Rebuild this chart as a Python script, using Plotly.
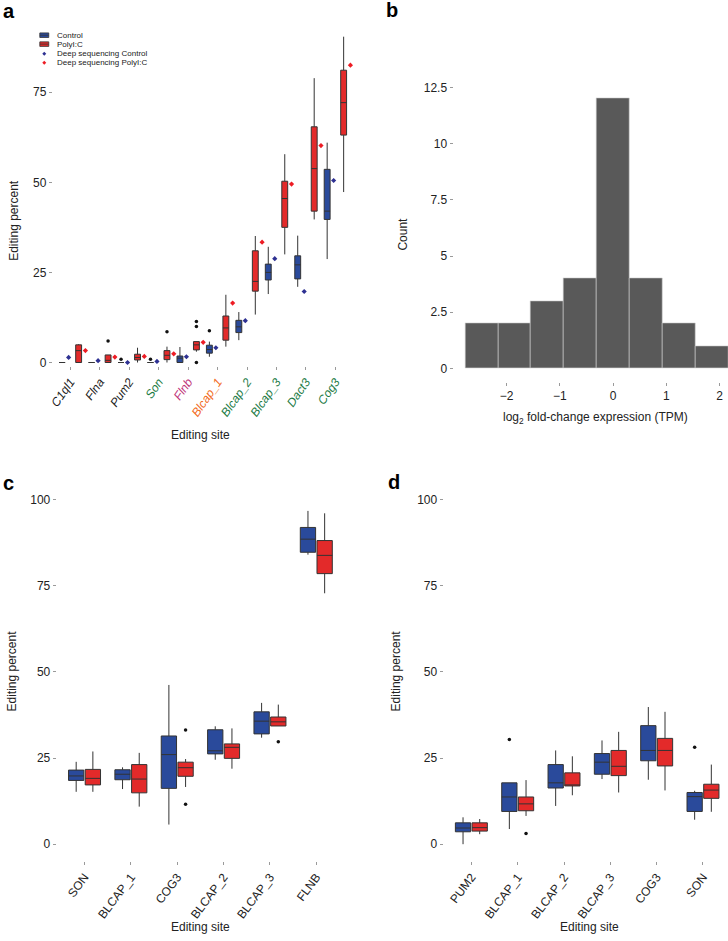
import plotly.graph_objects as go
import numpy as np

W, H = 728, 941
FONT = "Liberation Sans, Arial, sans-serif"
BLUE = "#2a4a9b"
RED = "#e32a2a"
DBLUE = "#2e3192"
DRED = "#ed1c24"
OUT = "#333333"
TXT = "#222222"

# ---------------- Panel a data ----------------
sites_a = ["C1ql1", "Flna", "Pum2", "Son", "Flnb", "Blcap_1", "Blcap_2", "Blcap_3", "Dact3", "Cog3"]
site_colors_a = ["#1a1a1a", "#1a1a1a", "#1a1a1a", "#1b7a44", "#c0357a", "#f26a21",
                 "#1b7a44", "#1b7a44", "#1b7a44", "#1b7a44"]
ctrl_a_low = [0, 0, 0, 0, 0, 1.6, 6.2, 19.0, 21.0, 28.7]
ctrl_a_q1 = [0, 0, 0, 0, 0, 2.6, 8.3, 22.9, 23.2, 39.7]
ctrl_a_med = [0, 0, 0, 0, 1.2, 3.6, 9.9, 25.0, 27.1, 42.0]
ctrl_a_q3 = [0, 0, 0, 0, 1.8, 4.8, 11.7, 27.3, 29.6, 53.6]
ctrl_a_up = [0, 0, 0, 0, 4.3, 5.8, 14.0, 32.1, 35.2, 61.0]
pic_a_low = [0, 0, 0, 0, 3.0, 4.4, 13.3, 30.0, 39.7, 47.3]
pic_a_q1 = [0, 0, 0.7, 0.8, 3.5, 6.2, 19.8, 37.5, 42.0, 63.1]
pic_a_med = [3.3, 0.6, 1.4, 2.0, 4.9, 9.6, 22.5, 45.5, 53.8, 72.1]
pic_a_q3 = [4.9, 2.1, 2.3, 3.3, 5.8, 12.9, 31.0, 50.3, 65.4, 81.1]
pic_a_up = [5.1, 2.1, 4.1, 4.4, 5.8, 18.8, 35.1, 57.8, 78.9, 90.4]
deep_ctrl_a = [1.4, 0.5, 0.0, 0.3, 1.6, 4.1, 11.6, 28.8, 19.7, 50.5]
deep_pic_a = [3.3, 1.5, 1.7, 2.4, 5.6, 16.5, 33.4, 49.5, 60.2, 82.5]
ctrl_a_out_site = ["Pum2", "Son", "Blcap_1"]
ctrl_a_out_val = [0.9, 0.9, 8.8]
pic_a_out_site = ["Flna", "Son", "Flnb", "Flnb", "Flnb"]
pic_a_out_val = [6.0, 8.5, 11.4, 10.0, 0.0]

# ---------------- Panel b data ----------------
hist_edges = [-2.78, -2.163, -1.545, -0.927, -0.309, 0.309, 0.927, 1.545, 2.163]
hist_counts = [2, 2, 3, 4, 12, 4, 2, 1]
hist_ticks = [-2, -1, 0, 1, 2]
hist_ticktext = ["\u22122", "\u22121", "0", "1", "2"]
count_ticks = [0, 2.5, 5, 7.5, 10, 12.5]
count_ticktext = ["0", "2.5", "5", "7.5", "10", "12.5"]

# ---------------- Panel c data ----------------
sites_c = ["SON", "BLCAP_1", "COG3", "BLCAP_2", "BLCAP_3", "FLNB"]
ctrl_c_low = [15.2, 16.0, 5.7, 24.5, 30.9, 84.0]
ctrl_c_q1 = [18.5, 18.7, 16.2, 26.2, 32.0, 84.7]
ctrl_c_med = [19.8, 20.3, 26.0, 27.1, 35.7, 88.5]
ctrl_c_q3 = [21.5, 21.6, 31.4, 33.2, 38.4, 91.9]
ctrl_c_up = [23.9, 22.3, 46.2, 34.2, 41.0, 96.7]
pic_c_low = [15.2, 10.9, 16.6, 21.9, 34.3, 72.8]
pic_c_q1 = [17.2, 14.9, 19.7, 24.9, 34.3, 78.5]
pic_c_med = [19.1, 18.9, 22.2, 28.1, 35.5, 83.8]
pic_c_q3 = [21.7, 23.1, 23.8, 29.1, 36.9, 88.1]
pic_c_up = [26.9, 26.5, 24.7, 33.6, 40.5, 96.0]
pic_c_out_site = ["COG3", "COG3", "BLCAP_3"]
pic_c_out_val = [33.1, 11.6, 29.7]

# ---------------- Panel d data ----------------
sites_d = ["PUM2", "BLCAP_1", "BLCAP_2", "BLCAP_3", "COG3", "SON"]
ctrl_d_low = [0.0, 4.4, 11.1, 18.9, 18.7, 7.1]
ctrl_d_q1 = [3.6, 9.5, 16.3, 20.3, 24.2, 9.5]
ctrl_d_med = [4.7, 13.7, 17.8, 23.8, 27.2, 13.8]
ctrl_d_q3 = [6.2, 17.8, 23.1, 26.3, 34.4, 15.0]
ctrl_d_up = [7.8, 17.8, 27.2, 30.1, 39.8, 15.5]
pic_d_low = [2.9, 8.2, 14.2, 15.0, 15.6, 9.4]
pic_d_q1 = [3.8, 9.7, 16.9, 19.9, 22.7, 13.3]
pic_d_med = [4.8, 11.7, 17.2, 22.6, 27.2, 15.7]
pic_d_q3 = [6.2, 13.7, 20.7, 27.2, 30.7, 17.4]
pic_d_up = [7.3, 18.6, 25.5, 32.6, 38.4, 23.1]
ctrl_d_out_site = ["BLCAP_1", "SON"]
ctrl_d_out_val = [30.4, 28.1]
pic_d_out_site = ["BLCAP_1"]
pic_d_out_val = [3.1]

pct_ticks = [0, 25, 50, 75, 100]


def px(x):
    return x / W


def py(y):
    return 1 - y / H


fig = go.Figure()


def add_box(xs, low, q1, med, q3, up, color, width, xa, ya):
    fig.add_trace(go.Box(
        x=xs, lowerfence=low, q1=q1, median=med, q3=q3, upperfence=up,
        fillcolor=color, line=dict(color=OUT, width=1), width=width,
        whiskerwidth=0, boxpoints=False, showlegend=False,
        xaxis=xa, yaxis=ya, hoverinfo="skip"))


def add_points(xs, ys, color, symbol, size, xa, ya):
    fig.add_trace(go.Scatter(
        x=xs, y=ys, mode="markers",
        marker=dict(color=color, symbol=symbol, size=size, line=dict(width=0)),
        showlegend=False, xaxis=xa, yaxis=ya, hoverinfo="skip"))


# ----- Panel a -----
pos_a = np.arange(1, len(sites_a) + 1)
idx_a = {s: i + 1 for i, s in enumerate(sites_a)}
add_box(pos_a - 0.28, ctrl_a_low, ctrl_a_q1, ctrl_a_med, ctrl_a_q3, ctrl_a_up, BLUE, 0.2, "x", "y")
add_box(pos_a + 0.28, pic_a_low, pic_a_q1, pic_a_med, pic_a_q3, pic_a_up, RED, 0.2, "x", "y")
add_points([idx_a[s] - 0.28 for s in ctrl_a_out_site], ctrl_a_out_val, "#111111", "circle", 3.5, "x", "y")
add_points([idx_a[s] + 0.28 for s in pic_a_out_site], pic_a_out_val, "#111111", "circle", 3.5, "x", "y")
add_points(pos_a - 0.06, deep_ctrl_a, DBLUE, "diamond", 4, "x", "y")
add_points(pos_a + 0.51, deep_pic_a, DRED, "diamond", 4, "x", "y")

# ----- Panel b -----
edges = np.array(hist_edges)
centers = (edges[:-1] + edges[1:]) / 2
widths = edges[1:] - edges[:-1]
fig.add_trace(go.Bar(x=centers, y=hist_counts, width=widths,
                     marker=dict(color="#595959", line=dict(color="#cfcfcf", width=0.6)),
                     showlegend=False, xaxis="x2", yaxis="y2", hoverinfo="skip"))

# ----- Panel c -----
pos_c = np.arange(1, len(sites_c) + 1)
idx_c = {s: i + 1 for i, s in enumerate(sites_c)}
add_box(pos_c - 0.18, ctrl_c_low, ctrl_c_q1, ctrl_c_med, ctrl_c_q3, ctrl_c_up, BLUE, 0.33, "x3", "y3")
add_box(pos_c + 0.18, pic_c_low, pic_c_q1, pic_c_med, pic_c_q3, pic_c_up, RED, 0.33, "x3", "y3")
add_points([idx_c[s] + 0.18 for s in pic_c_out_site], pic_c_out_val, "#111111", "circle", 3.5, "x3", "y3")

# ----- Panel d -----
pos_d = np.arange(1, len(sites_d) + 1)
idx_d = {s: i + 1 for i, s in enumerate(sites_d)}
add_box(pos_d - 0.18, ctrl_d_low, ctrl_d_q1, ctrl_d_med, ctrl_d_q3, ctrl_d_up, BLUE, 0.33, "x4", "y4")
add_box(pos_d + 0.18, pic_d_low, pic_d_q1, pic_d_med, pic_d_q3, pic_d_up, RED, 0.33, "x4", "y4")
add_points([idx_d[s] - 0.18 for s in ctrl_d_out_site], ctrl_d_out_val, "#111111", "circle", 3.5, "x4", "y4")
add_points([idx_d[s] + 0.18 for s in pic_d_out_site], pic_d_out_val, "#111111", "circle", 3.5, "x4", "y4")

axis_common = dict(showgrid=False, zeroline=False, showline=False, ticks="outside",
                   ticklen=3, tickwidth=1, tickcolor="#9a9a9a",
                   tickfont=dict(family=FONT, size=12, color=TXT))

ticktext_a = ["<i><span style='color:%s'>%s</span></i>" % (c, s) for s, c in zip(sites_a, site_colors_a)]

fig.update_layout(
    width=W, height=H, margin=dict(l=0, r=0, t=0, b=0),
    paper_bgcolor="white", plot_bgcolor="white",
    font=dict(family=FONT, size=12, color=TXT),
    boxmode="overlay", bargap=0, showlegend=False,
    xaxis=dict(axis_common, domain=[px(49), px(351)], range=[0.4, 10.6], anchor="y",
               tickvals=list(pos_a), ticktext=ticktext_a, tickangle=-55),
    yaxis=dict(axis_common, domain=[py(364.6), py(28)], range=[-1, 91.5], anchor="x",
               tickvals=[0, 25, 50, 75]),
    xaxis2=dict(axis_common, domain=[px(452), 1.0], range=[-3.0, 2.16], anchor="y2",
                tickvals=hist_ticks, ticktext=hist_ticktext),
    yaxis2=dict(axis_common, domain=[py(380.6), py(81)], range=[-0.6, 12.6], anchor="x2",
                tickvals=count_ticks, ticktext=count_ticktext),
    xaxis3=dict(axis_common, domain=[px(53), px(342)], range=[0.4, 6.6], anchor="y3",
                tickvals=list(pos_c), ticktext=sites_c, tickangle=-53),
    yaxis3=dict(axis_common, domain=[py(864.7), py(481.9)], range=[-5, 105], anchor="x3",
                tickvals=pct_ticks),
    xaxis4=dict(axis_common, domain=[px(442), 1.0], range=[0.4, 6.54], anchor="y4",
                tickvals=list(pos_d), ticktext=sites_d, tickangle=-53),
    yaxis4=dict(axis_common, domain=[py(864.7), py(481.9)], range=[-5, 105], anchor="x4",
                tickvals=pct_ticks),
)

ann = []


def label(text, x, y, size=12, angle=0, xanchor="center", yanchor="middle", bold=False):
    ann.append(dict(text=("<b>%s</b>" % text) if bold else text, x=px(x), y=py(y),
                    xref="paper", yref="paper", showarrow=False, textangle=angle,
                    xanchor=xanchor, yanchor=yanchor,
                    font=dict(family=FONT, size=size, color="#000000" if bold else TXT)))


# panel letters
label("a", -3, 6, size=20, xanchor="left", bold=True)
label("b", 382, 5, size=20, xanchor="left", bold=True)
label("c", -3, 483, size=20, xanchor="left", bold=True)
label("d", 384, 482, size=20, xanchor="left", bold=True)
# axis titles
label("Editing percent", 10, 217, angle=-90)
label("Editing site", 198, 434)
label("Count", 401, 231, angle=-90)
label("log<sub>2</sub> fold-change expression (TPM)", 595, 417)
label("Editing percent", 8, 672, angle=-90)
label("Editing site", 198, 931)
label("Editing percent", 394, 672, angle=-90)
label("Editing site", 589, 931)

# manual legend for panel a
legend_labels = ["Control", "PolyI:C", "Deep sequencing Control", "Deep sequencing PolyI:C"]
legend_rows = [30.5, 39.5, 49.3, 58.3]
for lab, yy in zip(legend_labels, legend_rows):
    label(lab, 51.5, yy, size=8, xanchor="left")

shapes = []
for col, yy in zip([BLUE, RED], legend_rows[:2]):
    shapes.append(dict(type="rect", xref="paper", yref="paper",
                       x0=px(36), x1=px(45), y0=py(yy + 2.3), y1=py(yy - 2.3),
                       fillcolor=col, line=dict(color=OUT, width=0.8)))
    shapes.append(dict(type="line", xref="paper", yref="paper",
                       x0=px(36), x1=px(45), y0=py(yy), y1=py(yy),
                       line=dict(color=OUT, width=0.8)))
for col, yy in zip([DBLUE, DRED], legend_rows[2:]):
    shapes.append(dict(type="path", xref="paper", yref="paper",
                       path="M %f,%f L %f,%f L %f,%f L %f,%f Z" % (
                           px(40.5), py(yy - 2.0), px(42.5), py(yy), px(40.5), py(yy + 2.0), px(38.5), py(yy)),
                       fillcolor=col, line=dict(color=col, width=0)))

fig.update_layout(annotations=ann, shapes=shapes)

fig.write_html("out.html", config={"displayModeBar": False},
               post_script="document.body.style.margin='0px';document.body.style.padding='0px';"
                           "document.body.style.overflow='hidden';")
